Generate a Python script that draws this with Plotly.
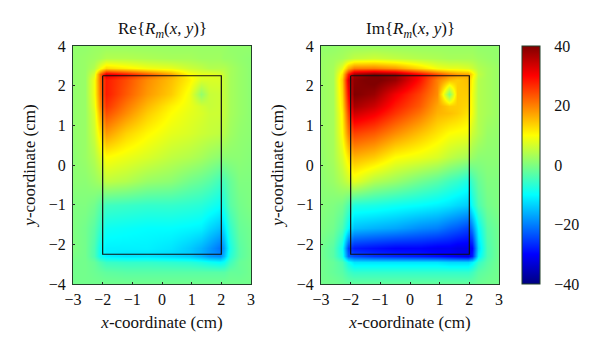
import plotly.graph_objects as go

x_grid = [-3, -2.6, -2.3, -2.1, -1.9, -1.2, -0.5, 0.3, 0.9, 1.3, 1.6, 1.95, 2.1, 2.3, 2.6, 3]
y_grid = [3, 2.7, 2.45, 2.3, 2.15, 1.8, 1.5, 1.3, 0.8, 0.2, -0.4, -1.0, -1.6, -2.1, -2.3, -2.45, -2.7, -3]

re_values = [
    [1.5, 1.5, 2, 2, 2, 2, 2, 2, 2, 2, 2, 2, 2, 1.5, 1.5, 1.5],
    [1.5, 2, 2.5, 3, 4, 4, 3.5, 3, 3, 2.5, 2.5, 2.5, 2, 2, 1.5, 1],
    [1.5, 2, 4, 9, 13, 11, 9, 8, 6, 5, 4, 4, 4, 3, 2, 1],
    [1.5, 2, 7, 22, 32, 28, 23, 17, 10, 8, 8, 7, 5, 3, 2, 1],
    [1.5, 2, 9, 22, 28, 24, 19, 15, 11, 7, 7, 7, 5, 3, 2, 1],
    [1.5, 2, 9, 21, 28, 23, 18, 14, 9, 1.5, 5.5, 6, 5, 3, 2, 1],
    [1.5, 2, 8, 19, 26, 20.5, 15.5, 11, 8.5, 6.5, 5.5, 6, 5, 3, 2, 1],
    [1.5, 2, 7, 17, 24, 19, 14, 10, 8, 7, 6, 6, 5, 3, 2, 1],
    [1.5, 2, 6, 12, 18, 13.5, 10.5, 8, 7, 6, 5.5, 5, 4, 2.5, 1.5, 1],
    [1, 2, 4, 7, 10, 8.5, 7, 5, 4, 3, 2, 1, 1, 1, 1, 0.5],
    [1, 1, 2, 3, 5, 4, 2, 1, -1, -2, -3, -5, -4, -2, 0, 0],
    [0, 0, -1, -3, -5, -5.5, -6, -6, -6.5, -7, -8, -9.5, -7, -3, -1, 0],
    [0, -1, -3, -6, -9, -9.5, -10, -10, -10.5, -11, -13, -15, -12, -6, -2, -1],
    [0, -1, -4, -9, -11, -11, -11, -12, -14, -16, -18, -21, -17, -8, -3, -1],
    [-0.5, -1, -4, -9, -11, -12, -12, -13, -14, -16, -18, -19, -15, -7, -3, -1],
    [-1, -1, -2, -4, -5.5, -6, -6, -6.5, -7, -8, -9, -10, -9, -5, -2, -1],
    [-1, -1, -1.5, -2, -2.5, -3, -3, -3, -3, -3, -3, -3, -3, -2, -2, -1],
    [-1, -1, -1, -1, -1, -1, -1, -1, -1, -1, -1, -1, -1, -1, -1, -1],
]

im_values = [
    [1.5, 1.5, 2, 2, 2, 2, 2, 2, 2, 2, 2, 2, 2, 1.5, 1.5, 1.5],
    [2, 2.5, 3, 4, 5, 6, 5, 4, 3.5, 3, 3, 3, 3, 2.5, 2, 1.5],
    [2, 3, 8, 16, 20, 20, 18, 13, 9, 8, 8, 7, 6, 4, 3, 2],
    [2, 3, 12, 28, 37, 40, 38, 30, 24, 20, 18, 17, 12, 5, 3, 2],
    [2, 3, 14, 33, 39, 41, 38, 29, 20, 15, 14, 15, 10, 4, 3, 2],
    [2, 3, 13, 30, 40, 38, 31, 25, 19, 0, 14, 14, 9, 4, 3, 2],
    [2, 3, 12, 27, 37, 34, 28, 23, 17, 14, 14, 13, 9, 4, 3, 2],
    [2, 3, 11, 25, 34, 31, 26, 21, 16, 15, 14, 12, 9, 4, 3, 2],
    [2, 3, 10, 20, 25, 23, 19, 15, 12, 10, 9.5, 9, 6, 4, 2, 1.5],
    [1.5, 3, 7, 12, 16, 14, 10, 8.5, 7, 5, 4, 3, 2, 1, 1, 1],
    [1, 2, 4, 6, 8, 4, 2, -1, -3, -5, -6, -8, -5, -2, 0, 0],
    [0.5, 0, -1, -4, -7.5, -8, -9, -10, -11, -12, -13, -14, -9, -4, -1, 0],
    [0, -1, -4, -10, -15, -16, -17, -19, -20, -22, -23, -25, -20, -10, -3, -1],
    [-1, -3, -9, -25, -28, -29, -30, -30, -31, -31, -32, -32, -30, -13, -4, -1],
    [-1, -3, -8, -22, -24, -26, -27, -28, -29, -30, -31, -32, -28, -11, -4, -1],
    [-1, -2, -4, -9, -12, -12, -12, -12, -12, -13, -13, -13, -11, -6, -3, -1],
    [-1, -2, -3, -5, -6, -6, -6, -6, -6, -6, -6, -6, -5, -3, -2, -1],
    [-1, -1, -1.5, -2, -2, -2, -2, -2, -2, -2, -2, -2, -2, -1.5, -1, -1],
]

box_x = [-2, 2, 2, -2, -2]
box_y = [2.25, 2.25, -2.25, -2.25, 2.25]

x_ticks = [-3, -2, -1, 0, 1, 2, 3]
y_ticks = [-3, -2, -1, 0, 1, 2, 3]
y_tick_labels = ["−4", "−2", "−1", "0", "1", "2", "4"]
bar_ticks = [-40, -20, 0, 20, 40]

titles = ["Re{<i>R<sub>m</sub></i>(<i>x</i>, <i>y</i>)}", "Im{<i>R<sub>m</sub></i>(<i>x</i>, <i>y</i>)}"]
x_title = "<i>x</i>-coordinate (cm)"
y_title = "<i>y</i>-coordinate (cm)"

jet = [[0, "rgb(0,0,128)"], [0.125, "rgb(0,0,255)"], [0.375, "rgb(0,255,255)"],
       [0.625, "rgb(255,255,0)"], [0.875, "rgb(255,0,0)"], [1, "rgb(128,0,0)"]]

FONT = "Liberation Serif"
W, H = 600, 355
ML, MR, MT, MB = 60, 60, 40, 60
PW, PH = W - ML - MR, H - MT - MB


def fx(px):
    return (px - ML) / PW


def fy(py):
    return 1 - (py - MT) / PH


fig = go.Figure()
for i, z in enumerate([re_values, im_values]):
    xa = "x" if i == 0 else "x2"
    ya = "y" if i == 0 else "y2"
    fig.add_trace(go.Heatmap(x=x_grid, y=y_grid, z=z, xaxis=xa, yaxis=ya, coloraxis="coloraxis",
                             zsmooth="best", hoverinfo="skip"))
    fig.add_trace(go.Scatter(x=box_x, y=box_y, xaxis=xa, yaxis=ya, mode="lines",
                             line=dict(color="#111111", width=1.2), showlegend=False, hoverinfo="skip"))

axis_common = dict(showgrid=False, zeroline=False, showline=True, linecolor="#22402a", linewidth=1, mirror=True,
                   ticks="inside", ticklen=2, tickcolor="#222222", tickfont=dict(family=FONT, size=16, color="#111"))


def xaxis(lo, hi, anchor):
    return dict(axis_common, domain=[fx(lo), fx(hi)], range=[-3, 3], tickvals=x_ticks, anchor=anchor,
                ticklabelstandoff=1,
                title=dict(text=x_title, font=dict(family=FONT, size=17, color="#111"), standoff=8))


def yaxis(anchor):
    return dict(axis_common, domain=[fy(284), fy(46)], range=[-3, 3], tickvals=y_ticks, ticktext=y_tick_labels,
                anchor=anchor, ticklabelstandoff=3,
                title=dict(text=y_title, font=dict(family=FONT, size=17, color="#111"), standoff=8))


fig.update_layout(
    width=W, height=H, margin=dict(l=ML, r=MR, t=MT, b=MB, autoexpand=False), paper_bgcolor="white", plot_bgcolor="white",
    showlegend=False, font=dict(family=FONT, color="#111"),
    xaxis=xaxis(73, 251, "y"), yaxis=yaxis("x"),
    xaxis2=xaxis(321, 499, "y2"), yaxis2=yaxis("x2"),
    coloraxis=dict(cmin=-40, cmax=40, colorscale=jet,
                   colorbar=dict(x=fx(522), xanchor="left", y=fy(284), yanchor="bottom", len=fy(46) - fy(284),
                                 lenmode="fraction",
                                 thickness=18, thicknessmode="pixels", outlinewidth=1, outlinecolor="#22402a",
                                 tickvals=bar_ticks, ticks="outside", ticklen=11, tickcolor="rgba(0,0,0,0)",
                                 tickfont=dict(family=FONT, size=16, color="#111"), xpad=0, ypad=0)),
    annotations=[
        dict(text=titles[0], x=fx(162), y=fy(30), xref="paper", yref="paper", showarrow=False, yanchor="middle",
             xanchor="center", font=dict(family=FONT, size=17, color="#111")),
        dict(text=titles[1], x=fx(410), y=fy(30), xref="paper", yref="paper", showarrow=False, yanchor="middle",
             xanchor="center", font=dict(family=FONT, size=17, color="#111")),
    ],
)
fig.write_html("out.html", config={"displayModeBar": False},
               post_script="document.body.style.margin='0';document.body.style.overflow='hidden';")
